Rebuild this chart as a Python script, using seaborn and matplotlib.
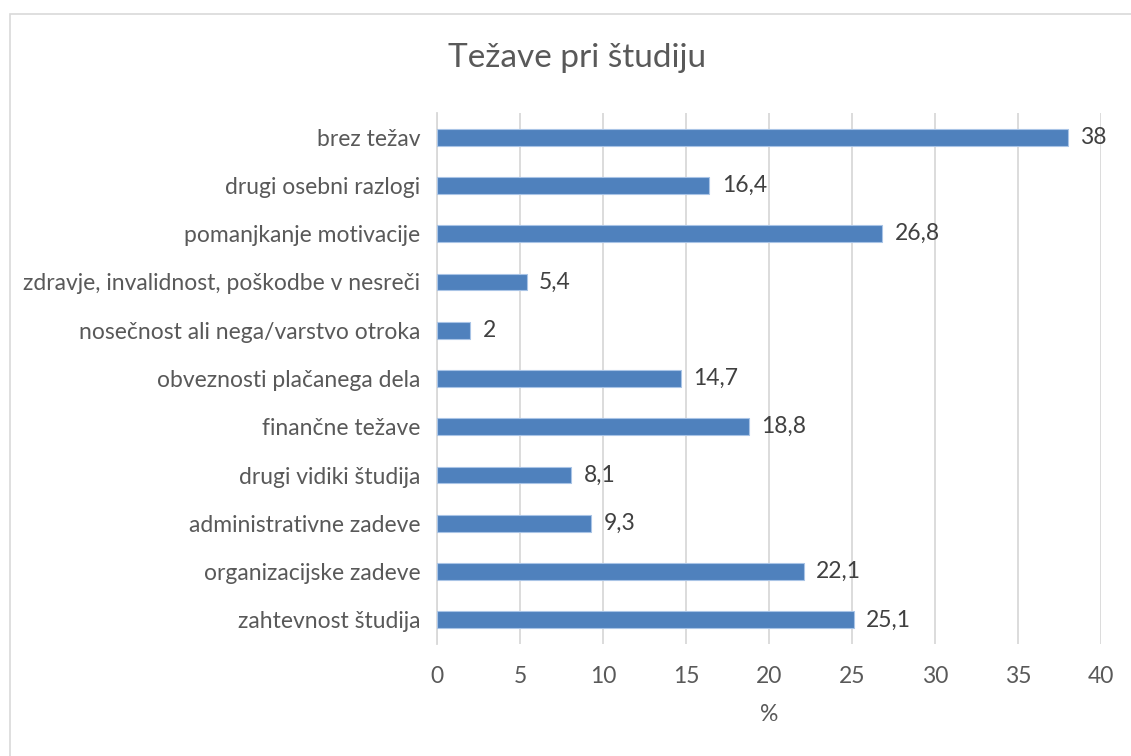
import matplotlib
matplotlib.use("Agg")
import matplotlib.pyplot as plt
import seaborn as sns
import pandas as pd
from matplotlib.patches import Rectangle

categories = [
    "brez težav",
    "drugi osebni razlogi",
    "pomanjkanje motivacije",
    "zdravje, invalidnost, poškodbe v nesreči",
    "nosečnost ali nega/varstvo otroka",
    "obveznosti plačanega dela",
    "finančne težave",
    "drugi vidiki študija",
    "administrativne zadeve",
    "organizacijske zadeve",
    "zahtevnost študija",
]
values = [38, 16.4, 26.8, 5.4, 2, 14.7, 18.8, 8.1, 9.3, 22.1, 25.1]
value_labels = ["38", "16,4", "26,8", "5,4", "2", "14,7", "18,8", "8,1", "9,3", "22,1", "25,1"]
xticks = [0, 5, 10, 15, 20, 25, 30, 35, 40]

title = "Težave pri študiju"
xlabel = "%"

sns.set_theme(style="white")
plt.rcParams["font.family"] = ["Lato", "DejaVu Sans"]

text_color = "#595959"
bar_color = "#4F81BD"
fs = 16.5

fig = plt.figure(figsize=(11.31, 7.56), dpi=100)
ax = fig.add_axes([437 / 1131, 1 - 644 / 756, (1101 - 437) / 1131, (644 - 113) / 756])

df = pd.DataFrame({"cat": categories, "val": values})
sns.barplot(data=df, x="val", y="cat", orient="h", color=bar_color, width=0.35,
            saturation=1, edgecolor="#A9C4E6", linewidth=0.8, ax=ax, zorder=3)

ax.set_xlim(0, 40)
ax.set_ylim(len(categories) - 0.5, -0.5)
ax.set_xticks(xticks)
ax.set_xticklabels([str(t) for t in xticks])
ax.grid(axis="x", color="#D9D9D9", linewidth=1.3, zorder=0)
ax.grid(axis="y", visible=False)
for s in ["top", "right", "bottom"]:
    ax.spines[s].set_visible(False)
ax.spines["left"].set_color("#D9D9D9")
ax.spines["left"].set_linewidth(1.3)
ax.tick_params(axis="both", length=0, labelsize=fs, colors=text_color)
ax.tick_params(axis="x", pad=16)
ax.tick_params(axis="y", pad=12)
ax.set_ylabel("")
ax.set_xlabel(xlabel, fontsize=fs, color=text_color, labelpad=12)

for i, (v, lab) in enumerate(zip(values, value_labels)):
    ax.annotate(lab, xy=(v, i), xytext=(9, 0), textcoords="offset points",
                va="center", ha="left", fontsize=fs, color="#404040")

fig.text(577 / 1131, 1 - 58 / 756, title, ha="center", va="center",
         fontsize=24, color=text_color)

fig.patches.append(Rectangle((10 / 1131, -0.1), 1.2, 1 - 14 / 756 + 0.1,
                             transform=fig.transFigure, fill=False,
                             edgecolor="#D9D9D9", linewidth=1.2))

fig.savefig("out.png", dpi=100)
